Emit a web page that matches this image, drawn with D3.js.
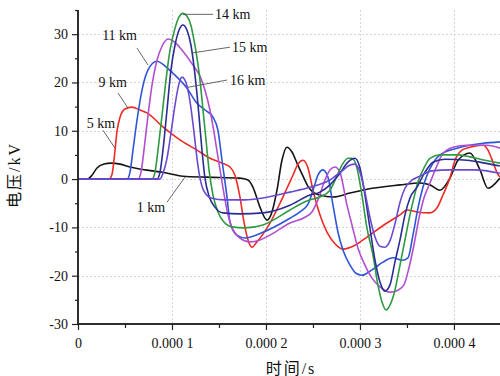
<!DOCTYPE html>
<html>
<head>
<meta charset="utf-8">
<script src="https://cdn.jsdelivr.net/npm/d3@7/dist/d3.min.js"></script>
<style>
  body { margin: 0; background: #fff; }
  svg { display: block; font-family: "Liberation Serif", "Times New Roman", "Noto Sans CJK SC", serif; }
</style>
</head>
<body>
<svg id="chart" width="500" height="376"></svg>
<script>
// time in microseconds, voltage in kV
const t1km = [0, 9.6, 14.9, 20.2, 27.7, 35.1, 44.7, 55.3, 71.3, 90.4, 111.7, 137.2, 172.3, 180.9, 186.2, 193.6, 201.1, 206.4, 211.7, 217.0, 222.3, 227.7, 233.0, 239.4, 244.7, 250.0, 257.4, 271.3, 289.4, 307.4, 342.6, 363.8, 374.5, 385.1, 395.7, 404.3, 417.0, 427.7, 436.2, 448.9];
const v1km = [0, 0, 0.8, 2.3, 3.1, 3.3, 3.1, 2.5, 1.9, 1.4, 0.6, 0.4, 0.2, -0.2, -1.7, -5.8, -8.5, -6.8, -2.3, 3.9, 6.6, 5.6, 3.3, 0.6, -1.5, -2.7, -3.3, -3.7, -2.9, -2.1, -1.2, -0.8, -1.2, -2.3, 0.2, 3.9, 5.4, 1.9, -1.9, 0.2];

const t5km = [0, 33.0, 36.2, 39.4, 41.5, 44.7, 50.0, 57.4, 66.0, 73.4, 90.4, 108.5, 126.6, 140.4, 153.2, 161.7, 167.0, 172.3, 176.6, 180.9, 185.1, 190.4, 196.8, 204.3, 214.9, 222.3, 228.7, 234.0, 239.4, 244.7, 250.0, 257.4, 264.9, 273.4, 281.9, 294.7, 307.4, 328.7, 342.6, 350.0, 360.6, 374.5, 381.9, 388.3, 395.7, 401.1, 408.5, 417.0, 430.9, 436.2, 441.5, 445.7, 448.9];
const v5km = [0, 0, 1.0, 6.0, 9.9, 12.8, 14.5, 14.9, 14.3, 13.7, 10.8, 8.1, 6.0, 4.3, 3.3, 2.5, 0.8, -3.7, -8.9, -12.6, -14.1, -13.0, -11.4, -9.1, -5.0, -1.9, 0.8, 3.1, 3.9, 2.3, -2.3, -7.4, -11.0, -13.4, -14.5, -13.7, -12.0, -9.1, -7.4, -6.4, -6.8, -7.0, -6.0, -3.3, 0.2, 3.9, 6.0, 6.6, 7.0, 6.0, 3.5, 1.4, 0.4];

const t9km = [0, 52.1, 55.3, 58.5, 62.8, 68.1, 74.5, 84.0, 92.6, 101.1, 116.0, 126.6, 135.1, 143.6, 148.9, 153.2, 158.5, 161.7, 169.1, 177.7, 196.8, 225.5, 236.2, 244.7, 251.1, 255.3, 260.6, 266.0, 271.3, 276.6, 281.9, 289.4, 295.7, 302.1, 312.8, 324.5, 335.1, 344.7, 351.1, 356.4, 361.7, 367.0, 371.3, 377.7, 385.1, 403.2, 417.0, 430.9, 448.9];
const v9km = [0, 0, 1.4, 6.0, 12.2, 18.4, 22.6, 24.4, 23.4, 21.9, 18.8, 15.7, 14.3, 12.8, 10.1, 3.9, -3.7, -8.9, -11.6, -12.2, -11.0, -8.1, -6.8, -5.2, -1.7, 0.8, 1.9, 0.4, -5.4, -11.0, -14.7, -17.8, -19.5, -19.9, -18.8, -17.2, -16.3, -16.8, -16.3, -11.6, -6.0, -1.7, 0.8, 3.3, 5.0, 6.4, 7.0, 7.4, 7.7];

const t11km = [0, 63.8, 67.0, 70.2, 74.5, 78.7, 84.0, 89.4, 95.7, 103.2, 110.6, 122.3, 129.8, 135.1, 140.4, 144.7, 148.9, 153.2, 158.5, 163.8, 172.3, 183.0, 193.6, 204.3, 225.5, 241.5, 248.9, 255.3, 262.8, 268.1, 273.4, 278.7, 286.2, 291.5, 297.9, 305.3, 312.8, 321.3, 331.9, 340.4, 346.8, 352.1, 357.4, 362.8, 368.1, 374.5, 380.9, 387.2, 398.9, 413.8, 435.1, 448.9];
const v11km = [0, 0, 1.4, 6.0, 13.2, 19.4, 24.6, 27.5, 29.0, 28.3, 26.7, 23.6, 21.3, 18.4, 14.3, 9.7, 4.6, -0.6, -6.4, -10.1, -12.2, -13.0, -12.6, -11.6, -9.1, -7.9, -6.8, -4.3, -0.2, 1.9, 2.5, 1.4, -5.4, -9.5, -14.3, -17.8, -20.5, -22.3, -23.4, -23.0, -21.9, -18.4, -13.7, -8.1, -3.9, -0.8, 2.3, 5.0, 6.6, 7.0, 7.0, 6.4];

const t14km = [0, 78.7, 81.9, 85.1, 89.4, 93.6, 97.9, 103.2, 107.4, 111.7, 116.0, 120.2, 123.4, 126.6, 129.8, 133.0, 136.2, 139.4, 143.6, 148.9, 155.3, 163.8, 177.7, 196.8, 225.5, 236.2, 246.8, 257.4, 268.1, 274.5, 280.9, 287.2, 291.5, 296.8, 302.1, 307.4, 313.8, 319.1, 323.4, 327.7, 331.9, 337.2, 342.6, 347.9, 353.2, 357.4, 361.7, 368.1, 374.5, 385.1, 403.2, 417.0, 433.0, 448.9];
const v14km = [0, 0, 1.4, 6.0, 13.2, 20.5, 26.7, 31.2, 33.5, 34.3, 33.7, 31.8, 28.8, 25.1, 20.5, 14.3, 8.1, 1.9, -3.3, -6.8, -8.9, -9.9, -10.1, -9.5, -6.4, -5.2, -4.3, -3.7, -2.3, 0.2, 2.9, 4.3, 4.3, 2.3, -3.3, -10.1, -15.7, -21.9, -25.4, -27.1, -26.1, -23.0, -17.8, -12.6, -7.4, -3.9, -0.6, 2.3, 4.3, 5.0, 5.0, 4.6, 3.9, 3.3];

const t15km = [0, 84.0, 87.2, 90.4, 94.7, 98.9, 103.2, 107.4, 111.7, 116.0, 120.2, 124.5, 128.7, 131.9, 135.1, 139.4, 145.7, 154.3, 172.3, 196.8, 225.5, 246.8, 257.4, 268.1, 278.7, 287.2, 294.7, 300.0, 305.3, 310.6, 316.0, 321.3, 326.6, 331.9, 337.2, 342.6, 347.9, 353.2, 360.6, 369.1, 377.7, 390.4, 413.8, 433.0, 448.9];
const v15km = [0, 0, 1.4, 6.0, 14.3, 22.6, 27.7, 30.8, 31.9, 30.8, 27.7, 21.5, 13.2, 6.0, 0.2, -3.5, -5.8, -7.0, -7.2, -7.0, -5.4, -3.3, -2.7, -1.2, 1.2, 3.5, 4.3, 2.3, -3.3, -10.1, -16.8, -21.3, -23.2, -21.9, -17.2, -12.6, -7.4, -3.9, -1.7, 1.4, 3.5, 4.1, 3.9, 3.3, 2.7];

const t16km = [0, 87.2, 90.4, 94.7, 98.9, 103.2, 107.4, 110.6, 113.8, 117.0, 120.2, 123.4, 126.6, 129.8, 134.0, 141.5, 156.4, 177.7, 196.8, 225.5, 246.8, 268.1, 280.9, 289.4, 294.7, 300.0, 305.3, 310.6, 316.0, 321.3, 326.6, 331.9, 337.2, 342.6, 347.9, 354.3, 363.8, 376.6, 395.7, 422.3, 448.9];
const v16km = [0, 0, 1.2, 4.3, 9.5, 15.3, 19.7, 21.1, 20.5, 18.4, 14.7, 9.7, 4.3, 0.2, -2.5, -3.9, -4.3, -4.3, -3.9, -2.7, -1.7, -0.2, 1.7, 2.9, 3.1, 1.4, -2.7, -7.9, -12.0, -13.9, -14.1, -12.8, -9.3, -4.8, -1.9, -0.4, 0.6, 1.7, 1.9, 1.9, 1.2];

const yTicks = [-30, -20, -10, 0, 10, 20, 30];
const yMinor = [-25, -15, -5, 5, 15, 25, 35];
const xTicks = [0, 100, 200, 300, 400];
const xMinor = [50, 150, 250, 350, 450];
const xTickLabels = ['0', '0.000 1', '0.000 2', '0.000 3', '0.000 4'];

const series = [
  { name: '1 km', t: t1km, v: v1km, color: '#151515' },
  { name: '5 km', t: t5km, v: v5km, color: '#ee2a24' },
  { name: '9 km', t: t9km, v: v9km, color: '#2d55d6' },
  { name: '11 km', t: t11km, v: v11km, color: '#b24fd0' },
  { name: '14 km', t: t14km, v: v14km, color: '#2e9a42' },
  { name: '15 km', t: t15km, v: v15km, color: '#2c2d94' },
  { name: '16 km', t: t16km, v: v16km, color: '#6b4ad0' },
];

// callouts: text anchor point and leader line, in data units
const callouts = [
  { text: '14 km', tx: 145.7, ty: 34.1, anchor: 'start', line: [[111.7, 34.1], [143.6, 34.1]] },
  { text: '15 km', tx: 163.8, ty: 27.3, anchor: 'start', line: [[121.3, 26.1], [161.7, 27.3]] },
  { text: '16 km', tx: 161.7, ty: 20.5, anchor: 'start', line: [[117.0, 19.0], [158.5, 20.5]] },
  { text: '11 km', tx: 62.8, ty: 29.8, anchor: 'end', line: [[62.8, 27.1], [74.5, 23.6]] },
  { text: '9 km', tx: 52.1, ty: 20.1, anchor: 'end', line: [[42.6, 17.8], [53.2, 14.7]] },
  { text: '5 km', tx: 39.4, ty: 11.6, anchor: 'end', line: [[26.6, 10.1], [39.4, 6.4]] },
  { text: '1 km', tx: 92.6, ty: -5.8, anchor: 'end', line: [[94.7, -4.8], [113.8, 0.4]] },
];

const svg = d3.select('#chart');
const width = +svg.attr('width');
const height = +svg.attr('height');
const margin = { top: 10, right: 0, bottom: 52, left: 78 };

const x = d3.scaleLinear().domain([0, 449]).range([margin.left, width - margin.right]);
const y = d3.scaleLinear().domain([-30, 35]).range([height - margin.bottom, margin.top]);

// grid
const grid = svg.append('g').attr('stroke', '#d6d6d6').attr('stroke-width', 1).attr('stroke-dasharray', '2,2');
grid.selectAll('.gy')
  .data(yTicks.filter((d) => d > -30))
  .enter()
  .append('line')
  .attr('x1', x(0))
  .attr('x2', width)
  .attr('y1', (d) => Math.round(y(d)) + 0.5)
  .attr('y2', (d) => Math.round(y(d)) + 0.5);
grid.selectAll('.gx')
  .data(xTicks.filter((d) => d > 0))
  .enter()
  .append('line')
  .attr('x1', (d) => Math.round(x(d)) + 0.5)
  .attr('x2', (d) => Math.round(x(d)) + 0.5)
  .attr('y1', y(35))
  .attr('y2', y(-30));

// curves
const line = d3
  .line()
  .x((d) => x(d[0]))
  .y((d) => y(d[1]))
  .curve(d3.curveMonotoneX);

svg.append('g')
  .selectAll('path')
  .data(series)
  .enter()
  .append('path')
  .attr('d', (s) => line(s.t.map((t, i) => [t, s.v[i]])))
  .attr('fill', 'none')
  .attr('stroke', (s) => s.color)
  .attr('stroke-width', 1.6)
  .attr('stroke-linejoin', 'round');

// axes
const axisColor = '#222';
const yAxis = svg.append('g').attr('transform', `translate(${x(0)},0)`);
yAxis.call(d3.axisLeft(y).tickValues(yTicks).tickSize(6).tickPadding(4).tickFormat((d) => d));
yAxis.append('g').call(d3.axisLeft(y).tickValues(yMinor).tickSize(3).tickFormat(''));
yAxis.selectAll('.domain').attr('d', `M0,${y(35)}V${y(-30)}`);

const xAxis = svg.append('g').attr('transform', `translate(0,${y(-30)})`);
xAxis.call(d3.axisBottom(x).tickValues(xTicks).tickSize(6).tickPadding(8).tickFormat((d, i) => xTickLabels[i]));
xAxis.append('g').call(d3.axisBottom(x).tickValues(xMinor).tickSize(4).tickFormat(''));
xAxis.selectAll('.domain').attr('d', `M${x(0)},0H${width}`);

svg.selectAll('.domain').attr('stroke', axisColor).attr('stroke-width', 1.5);
svg.selectAll('.tick line').attr('stroke', axisColor).attr('stroke-width', 1.2);
svg.selectAll('.tick text')
  .attr('font-family', '"Liberation Serif", serif')
  .attr('font-size', 14)
  .attr('fill', '#111');

// callouts
const notes = svg.append('g');
callouts.forEach((c) => {
  notes.append('line')
    .attr('x1', x(c.line[0][0]))
    .attr('y1', y(c.line[0][1]))
    .attr('x2', x(c.line[1][0]))
    .attr('y2', y(c.line[1][1]))
    .attr('stroke', '#555')
    .attr('stroke-width', 0.9);
  notes.append('text')
    .attr('x', x(c.tx))
    .attr('y', y(c.ty))
    .attr('dy', '0.35em')
    .attr('text-anchor', c.anchor)
    .attr('font-size', 14)
    .attr('fill', '#111')
    .text(c.text);
});

// axis titles
svg.append('text')
  .attr('transform', 'translate(20,175) rotate(-90)')
  .attr('text-anchor', 'middle')
  .attr('font-size', 16)
  .attr('letter-spacing', 2)
  .attr('fill', '#111')
  .text('电压/kV');

svg.append('text')
  .attr('x', 291)
  .attr('y', 374)
  .attr('text-anchor', 'middle')
  .attr('font-size', 16)
  .attr('letter-spacing', 2)
  .attr('fill', '#111')
  .text('时间/s');
</script>
</body>
</html>
